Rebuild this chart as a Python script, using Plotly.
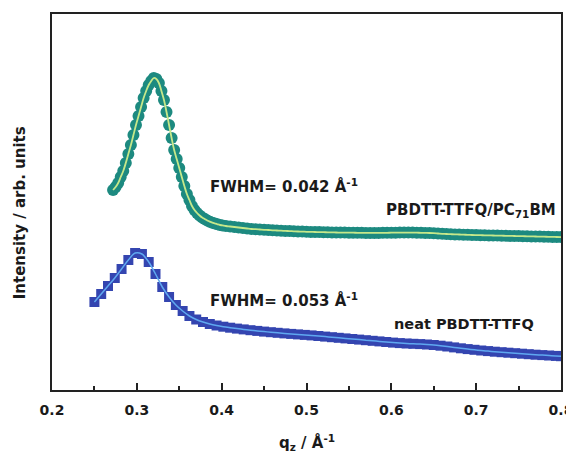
import plotly.graph_objects as go

# ---- data (intensity in arbitrary units) ----
q_blend = [0.272, 0.275, 0.278, 0.281, 0.284, 0.287, 0.290, 0.293, 0.296, 0.299,
           0.302, 0.305, 0.308, 0.311, 0.314, 0.317, 0.320, 0.323, 0.326, 0.329,
           0.332, 0.335, 0.338, 0.341, 0.344, 0.347, 0.350, 0.353, 0.356, 0.359,
           0.362, 0.365, 0.368, 0.371, 0.374, 0.377, 0.380, 0.383, 0.386, 0.389,
           0.392, 0.395, 0.398, 0.401, 0.405, 0.410, 0.415, 0.420, 0.425, 0.430,
           0.435, 0.440, 0.445, 0.450, 0.455, 0.460, 0.465, 0.470, 0.475, 0.480,
           0.485, 0.490, 0.495, 0.500, 0.505, 0.510, 0.515, 0.520, 0.525, 0.530,
           0.535, 0.540, 0.545, 0.550, 0.555, 0.560, 0.565, 0.570, 0.575, 0.580,
           0.585, 0.590, 0.595, 0.600, 0.605, 0.610, 0.615, 0.620, 0.625, 0.630,
           0.635, 0.640, 0.645, 0.650, 0.655, 0.660, 0.665, 0.670, 0.675, 0.680,
           0.685, 0.690, 0.695, 0.700, 0.705, 0.710, 0.715, 0.720, 0.725, 0.730,
           0.735, 0.740, 0.745, 0.750, 0.755, 0.760, 0.765, 0.770, 0.775, 0.780,
           0.785, 0.790, 0.795, 0.800]
i_blend = [200, 203, 207, 213, 219, 227, 236, 245, 255, 265,
           274, 283, 292, 299, 305, 309, 312, 311, 307, 299,
           290, 278, 265, 252, 240, 231, 222, 213, 204, 196,
           190, 184, 180, 177, 174.5, 172.5, 171, 169.5, 168.3, 167.3,
           166.5, 165.7, 165, 164.6, 164, 163.5, 163, 162.5, 162, 161.5,
           161, 160.8, 160.5, 160.2, 160, 159.7, 159.5, 159.3, 159.1, 158.9,
           158.7, 158.5, 158.4, 158.2, 158.1, 158, 157.9, 157.8, 157.7, 157.6,
           157.5, 157.4, 157.4, 157.3, 157.3, 157.2, 157.2, 157.1, 157.1, 157.1,
           157.1, 157.2, 157.2, 157.3, 157.3, 157.4, 157.4, 157.4, 157.4, 157.3,
           157.2, 157.1, 157.0, 156.8, 156.5, 156.2, 156.0, 155.8, 155.6, 155.5,
           155.3, 155.2, 155.0, 154.9, 154.8, 154.7, 154.6, 154.5, 154.4, 154.3,
           154.2, 154.1, 154.0, 153.9, 153.8, 153.7, 153.6, 153.5, 153.4, 153.3,
           153.2, 153.1, 153.0, 152.9]

q_neat = [0.250, 0.258, 0.266, 0.274, 0.282, 0.290, 0.298, 0.306, 0.314, 0.322,
          0.330, 0.338, 0.346, 0.354, 0.362, 0.370, 0.378, 0.386, 0.394, 0.402,
          0.410, 0.418, 0.426, 0.434, 0.442, 0.450, 0.458, 0.466, 0.474, 0.482,
          0.490, 0.498, 0.506, 0.514, 0.522, 0.530, 0.538, 0.546, 0.554, 0.562,
          0.570, 0.578, 0.586, 0.594, 0.602, 0.610, 0.618, 0.626, 0.634, 0.642,
          0.650, 0.658, 0.666, 0.674, 0.682, 0.690, 0.698, 0.706, 0.714, 0.722,
          0.730, 0.738, 0.746, 0.754, 0.762, 0.770, 0.778, 0.786, 0.794, 0.800]
i_neat = [88, 96, 104, 112, 121, 130, 137, 136, 128, 116,
          103, 93, 85, 79, 74, 70.5, 68, 66, 64.5, 63.3,
          62.3, 61.4, 60.6, 59.8, 59.1, 58.4, 57.8, 57.2, 56.6, 56.1,
          55.6, 55.1, 54.6, 54.0, 53.4, 52.8, 52.2, 51.6, 51.0, 50.4,
          49.8, 49.2, 48.6, 48.0, 47.4, 46.9, 46.5, 46.2, 45.9, 45.5,
          45.0, 44.3, 43.5, 42.6, 41.7, 40.9, 40.2, 39.5, 38.9, 38.3,
          37.8, 37.3, 36.8, 36.3, 35.8, 35.3, 34.9, 34.5, 34.1, 33.8]

x_ticks = [0.2, 0.3, 0.4, 0.5, 0.6, 0.7, 0.8]
x_ticklabels = ["<b>0.2</b>", "<b>0.3</b>", "<b>0.4</b>", "<b>0.5</b>",
                "<b>0.6</b>", "<b>0.7</b>", "<b>0.8</b>"]

FONT = "DejaVu Sans"
TXT = "#1a1a1a"

fig = go.Figure()

# blend: teal circles with yellow-green fit line
fig.add_trace(go.Scatter(x=q_blend, y=i_blend, mode="markers",
                         marker=dict(symbol="circle", size=12, color="#1d8a80",
                                     line=dict(width=0)),
                         showlegend=False, hoverinfo="skip"))
fig.add_trace(go.Scatter(x=q_blend, y=i_blend, mode="lines",
                         line=dict(color="#c6e88a", width=1.8, shape="spline"),
                         showlegend=False, hoverinfo="skip"))

# neat: blue squares with light-blue fit line
fig.add_trace(go.Scatter(x=q_neat, y=i_neat, mode="markers",
                         marker=dict(symbol="square", size=10, color="#3445b0",
                                     line=dict(width=0)),
                         showlegend=False, hoverinfo="skip"))
fig.add_trace(go.Scatter(x=q_neat, y=i_neat, mode="lines",
                         line=dict(color="#5fa8f0", width=1.5, shape="spline"),
                         showlegend=False, hoverinfo="skip"))

ann_font = dict(family=FONT, size=15, color=TXT)
fig.add_annotation(x=0.384, y=204, xref="x", yref="y", xanchor="left", yanchor="middle",
                   text="<b>FWHM= 0.042 Å<sup>-1</sup></b>", showarrow=False, font=ann_font)
fig.add_annotation(x=0.797, y=180, xref="x", yref="y", xanchor="right", yanchor="middle",
                   text="<b>PBDTT-TTFQ/PC<sub>71</sub>BM</b>", showarrow=False, font=ann_font)
fig.add_annotation(x=0.384, y=90, xref="x", yref="y", xanchor="left", yanchor="middle",
                   text="<b>FWHM= 0.053 Å<sup>-1</sup></b>", showarrow=False, font=ann_font)
fig.add_annotation(x=0.601, y=66, xref="x", yref="y", xanchor="left", yanchor="middle",
                   text="<b>neat PBDTT-TTFQ</b>", showarrow=False,
                   font=dict(family=FONT, size=14.5, color=TXT))

# axis titles
fig.add_annotation(x=0.5, y=0, xref="paper", yref="paper", xanchor="center", yanchor="middle",
                   yshift=-52, text="<b>q<sub>z</sub> / Å<sup>-1</sup></b>", showarrow=False,
                   font=dict(family=FONT, size=15, color=TXT))
fig.add_annotation(x=0, y=0.47, xref="paper", yref="paper", xanchor="center", yanchor="middle",
                   xshift=-32, textangle=-90, text="<b>Intensity / arb. units</b>", showarrow=False,
                   font=dict(family=FONT, size=15, color=TXT))

# the page body adds an 8 px offset, so the figure is 566 x 449 with shifted margins
fig.update_layout(
    width=566, height=449,
    margin=dict(l=44, r=13, t=6, b=67),
    paper_bgcolor="white", plot_bgcolor="white",
    font=dict(family=FONT, size=14, color=TXT),
)
fig.update_xaxes(range=[0.2, 0.8], tickvals=x_ticks, ticktext=x_ticklabels,
                 ticks="inside", ticklen=7, tickwidth=1.5, tickcolor="#222",
                 minor=dict(dtick=0.05, ticks="inside", ticklen=4, tickwidth=1.5, tickcolor="#222"),
                 showline=True, linecolor="#222", linewidth=1.8, mirror=True,
                 showgrid=False, zeroline=False, automargin=False,
                 ticklabelstandoff=6,
                 tickfont=dict(family=FONT, size=14, color=TXT))
fig.update_yaxes(range=[0, 376], showticklabels=False, ticks="",
                 showline=True, linecolor="#222", linewidth=1.8, mirror=True,
                 showgrid=False, zeroline=False, automargin=False)

fig.write_html("out.html")
